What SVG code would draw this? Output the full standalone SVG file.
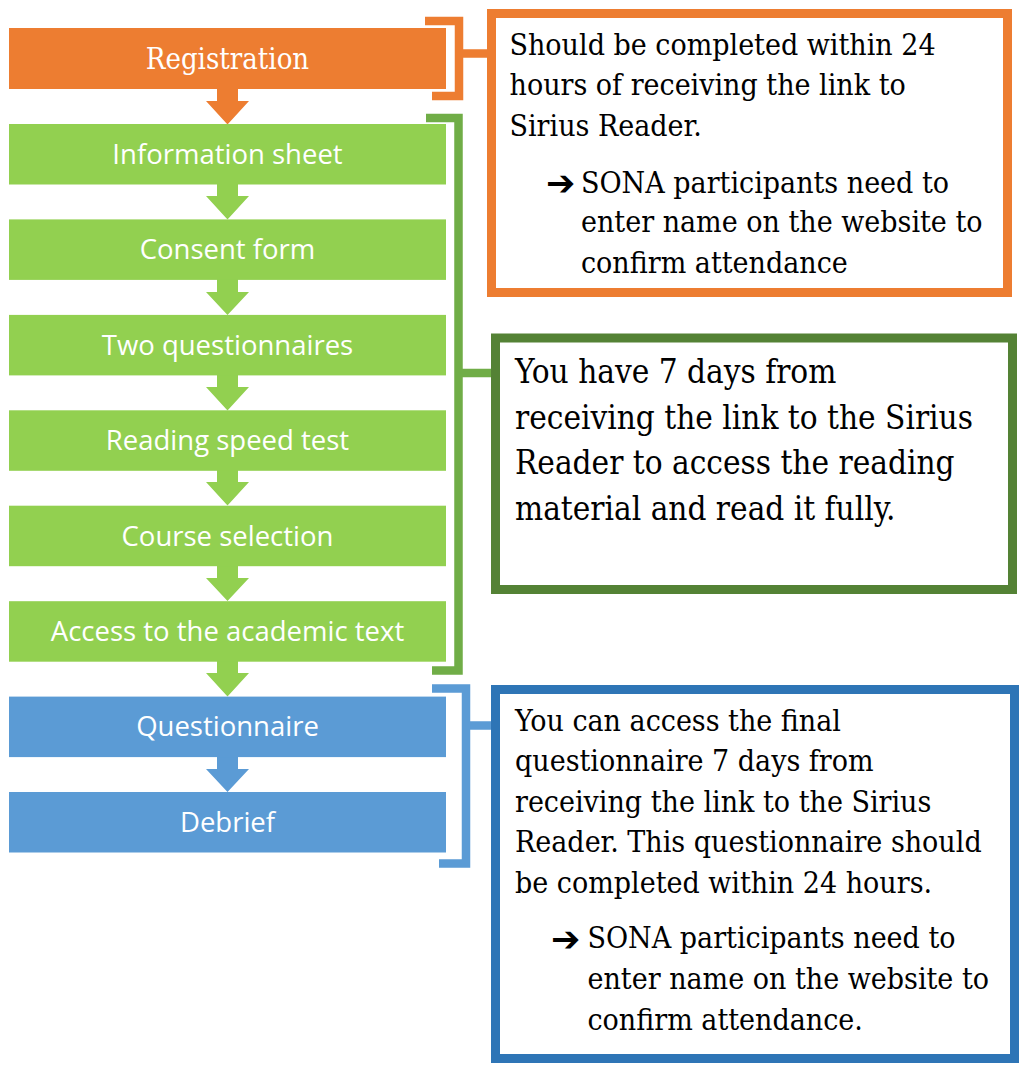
<svg xmlns="http://www.w3.org/2000/svg" width="1022" height="1071" viewBox="0 0 1022 1071">
<style>
.step{font-family:"Open Sans","Noto Sans",sans-serif;font-size:27.5px;fill:#ffffff;text-anchor:middle}
.serif{font-family:"DejaVu Serif Condensed","DejaVu Serif","Liberation Serif",serif;fill:#000000}
.note{font-size:30px}
.big{font-size:33px}
.arr{font-family:"DejaVu Sans",sans-serif;font-size:35px;font-weight:bold;fill:#000000}
.br{fill:none;stroke-width:8.5;stroke-linejoin:miter;stroke-linecap:butt}
</style>
<rect width="1022" height="1071" fill="#ffffff"/>
<g id="connectors">
  <polygon fill="#ED7D31" points="217,88 238,88 238,101 249,101 227.5,124.5 206,101 217,101"/>
  <polygon fill="#92D050" points="217,183 238,183 238,196 249,196 227.5,219.5 206,196 217,196"/>
  <polygon fill="#92D050" points="217,278 238,278 238,292 249,292 227.5,315 206,292 217,292"/>
  <polygon fill="#92D050" points="217,374 238,374 238,387 249,387 227.5,410.5 206,387 217,387"/>
  <polygon fill="#92D050" points="217,469 238,469 238,482 249,482 227.5,505.5 206,482 217,482"/>
  <polygon fill="#92D050" points="217,564 238,564 238,578 249,578 227.5,601 206,578 217,578"/>
  <polygon fill="#92D050" points="217,660 238,660 238,673 249,673 227.5,696.5 206,673 217,673"/>
  <polygon fill="#5B9BD5" points="217,755 238,755 238,769 249,769 227.5,792 206,769 217,769"/>
  <path class="br" stroke="#ED7D31" d="M425,21 H459 V96 H432 M459,53.5 H488"/>
  <path class="br" stroke="#70AD47" d="M426,118 H458.5 V670.5 H432 M458.5,373 H492"/>
  <path class="br" stroke="#5B9BD5" d="M432,688.5 H466 V863.5 H439 M466,725.5 H492"/>
</g>
<g id="registration">
  <rect x="9" y="28" width="437" height="61" fill="#ED7D31"/>
  <text class="serif" x="227.5" y="69" style="font-size:29px;fill:#ffffff;text-anchor:middle">Registration</text>
</g>
<g id="information-sheet">
  <rect x="9" y="124" width="437" height="60.5" fill="#92D050"/>
  <text class="step" x="227.5" y="163.5">Information sheet</text>
</g>
<g id="consent-form">
  <rect x="9" y="219.4" width="437" height="60.5" fill="#92D050"/>
  <text class="step" x="227.5" y="259">Consent form</text>
</g>
<g id="two-questionnaires">
  <rect x="9" y="314.9" width="437" height="60.5" fill="#92D050"/>
  <text class="step" x="227.5" y="354.5">Two questionnaires</text>
</g>
<g id="reading-speed-test">
  <rect x="9" y="410.3" width="437" height="60.5" fill="#92D050"/>
  <text class="step" x="227.5" y="450">Reading speed test</text>
</g>
<g id="course-selection">
  <rect x="9" y="505.7" width="437" height="60.5" fill="#92D050"/>
  <text class="step" x="227.5" y="545.5">Course selection</text>
</g>
<g id="access-text">
  <rect x="9" y="601.2" width="437" height="60.5" fill="#92D050"/>
  <text class="step" x="227.5" y="640.5">Access to the academic text</text>
</g>
<g id="questionnaire">
  <rect x="9" y="696.6" width="437" height="60.5" fill="#5B9BD5"/>
  <text class="step" x="227.5" y="736">Questionnaire</text>
</g>
<g id="debrief">
  <rect x="9" y="792" width="437" height="60.5" fill="#5B9BD5"/>
  <text class="step" x="227.5" y="831.5">Debrief</text>
</g>
<g id="note-registration">
  <rect x="491.5" y="13.5" width="516" height="279" fill="#ffffff" stroke="#ED7D31" stroke-width="9"/>
  <text class="serif note" x="509.5" y="54.5">Should be completed within 24</text>
  <text class="serif note" x="509.5" y="95.3">hours of receiving the link to</text>
  <text class="serif note" x="509.5" y="136">Sirius Reader.</text>
  <text class="arr" x="546" y="195">➔</text>
  <text class="serif note" x="581" y="192.7">SONA participants need to</text>
  <text class="serif note" x="581" y="232">enter name on the website to</text>
  <text class="serif note" x="581" y="272.7">confirm attendance</text>
</g>
<g id="note-reading">
  <rect x="495.5" y="338" width="517" height="251.5" fill="#ffffff" stroke="#548235" stroke-width="9"/>
  <text class="serif big" x="515" y="383.3">You have 7 days from</text>
  <text class="serif big" x="515" y="428.8">receiving the link to the Sirius</text>
  <text class="serif big" x="515" y="474.4">Reader to access the reading</text>
  <text class="serif big" x="515" y="520">material and read it fully.</text>
</g>
<g id="note-final">
  <rect x="495.5" y="689.5" width="519" height="369" fill="#ffffff" stroke="#2E75B6" stroke-width="9"/>
  <text class="serif note" x="515" y="731">You can access the final</text>
  <text class="serif note" x="515" y="771.4">questionnaire 7 days from</text>
  <text class="serif note" x="515" y="811.8">receiving the link to the Sirius</text>
  <text class="serif note" x="515" y="852.4">Reader. This questionnaire should</text>
  <text class="serif note" x="515" y="892.5">be completed within 24 hours.</text>
  <text class="arr" x="551" y="950.5">➔</text>
  <text class="serif note" x="587.5" y="948.4">SONA participants need to</text>
  <text class="serif note" x="587.5" y="989.3">enter name on the website to</text>
  <text class="serif note" x="587.5" y="1030">confirm attendance.</text>
</g>
</svg>
